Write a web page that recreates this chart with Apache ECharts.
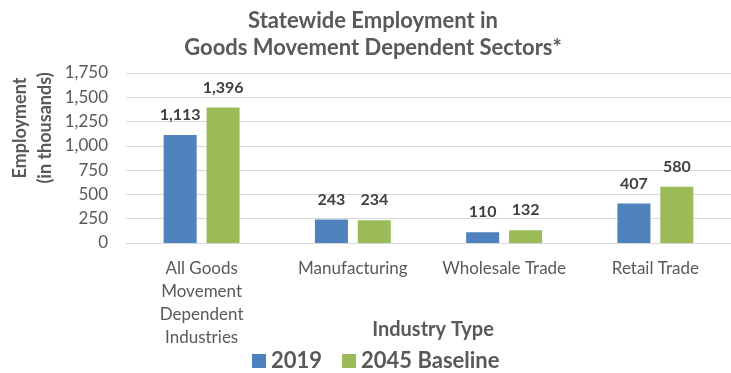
<!DOCTYPE html>
<html>
<head>
<meta charset="utf-8">
<script src="https://cdn.jsdelivr.net/npm/echarts@6/dist/echarts.min.js"></script>
<style>
  html, body { margin: 0; padding: 0; background: #fff; }
  #chart { width: 731px; height: 373px; }
</style>
</head>
<body>
<div id="chart"></div>
<script>
// Sector categories (line breaks as shown under the axis)
const categories = [
  'All Goods\nMovement\nDependent\nIndustries',
  'Manufacturing',
  'Wholesale Trade',
  'Retail Trade'
];
// Employment, in thousands
const employment2019 = [1113, 243, 110, 407];
const employment2045 = [1396, 234, 132, 580];
const seriesNames = ['2019', '2045 Baseline'];
const yTicks = { min: 0, max: 1750, interval: 250 };

const FONT = 'Lato, "Open Sans", sans-serif';
const TEXT = '#595959';

const chart = echarts.init(document.getElementById('chart'), null, { renderer: 'canvas' });

const valueLabel = {
  show: true,
  position: 'top',
  distance: 12,
  fontFamily: FONT,
  fontWeight: 'bold',
  fontSize: 16,
  color: '#404040',
  formatter: p => p.value.toLocaleString('en-US')
};

chart.setOption({
  animation: false,
  backgroundColor: '#ffffff',
  title: {
    text: 'Statewide Employment in\nGoods Movement Dependent Sectors*',
    left: 368,
    textAlign: 'center',
    top: 2,
    textStyle: {
      fontFamily: FONT,
      fontWeight: 'bold',
      fontSize: 22,
      lineHeight: 27,
      color: TEXT
    }
  },
  legend: {
    data: seriesNames,
    left: 247,
    top: 345,
    itemWidth: 14,
    itemHeight: 14,
    itemGap: 20,
    icon: 'rect',
    textStyle: {
      fontFamily: FONT,
      fontWeight: 'bold',
      fontSize: 22,
      color: TEXT
    }
  },
  grid: {
    left: 126,
    right: 0,
    top: 73,
    height: 170,
    containLabel: false
  },
  xAxis: {
    type: 'category',
    data: categories,
    axisLine: { show: true, lineStyle: { color: '#d9d9d9', width: 1 } },
    axisTick: { show: false },
    axisLabel: {
      fontFamily: FONT,
      fontSize: 17,
      lineHeight: 23,
      color: TEXT,
      margin: 14,
      interval: 0
    }
  },
  yAxis: {
    type: 'value',
    min: yTicks.min,
    max: yTicks.max,
    interval: yTicks.interval,
    axisLine: { show: false },
    axisTick: { show: false },
    splitLine: { lineStyle: { color: '#d9d9d9', width: 1 } },
    axisLabel: {
      fontFamily: FONT,
      fontSize: 17,
      color: TEXT,
      margin: 18,
      formatter: v => v.toLocaleString('en-US')
    }
  },
  graphic: [
    {
      type: 'text',
      x: 33,
      y: 128,
      rotation: Math.PI / 2,
      style: {
        text: 'Employment\n(in thousands)',
        fontFamily: FONT,
        fontWeight: 'bold',
        fontSize: 18,
        lineHeight: 25,
        fill: TEXT,
        align: 'center',
        verticalAlign: 'middle'
      }
    },
    {
      type: 'text',
      x: 433,
      y: 330,
      style: {
        text: 'Industry Type',
        fontFamily: FONT,
        fontWeight: 'bold',
        fontSize: 20,
        fill: TEXT,
        align: 'center',
        verticalAlign: 'middle'
      }
    }
  ],
  series: [
    {
      name: seriesNames[0],
      type: 'bar',
      data: employment2019,
      barWidth: 33,
      barGap: '30%',
      itemStyle: { color: '#4f81bd' },
      label: valueLabel
    },
    {
      name: seriesNames[1],
      type: 'bar',
      data: employment2045,
      barWidth: 33,
      itemStyle: { color: '#9bbb59' },
      label: valueLabel
    }
  ]
});
</script>
</body>
</html>
